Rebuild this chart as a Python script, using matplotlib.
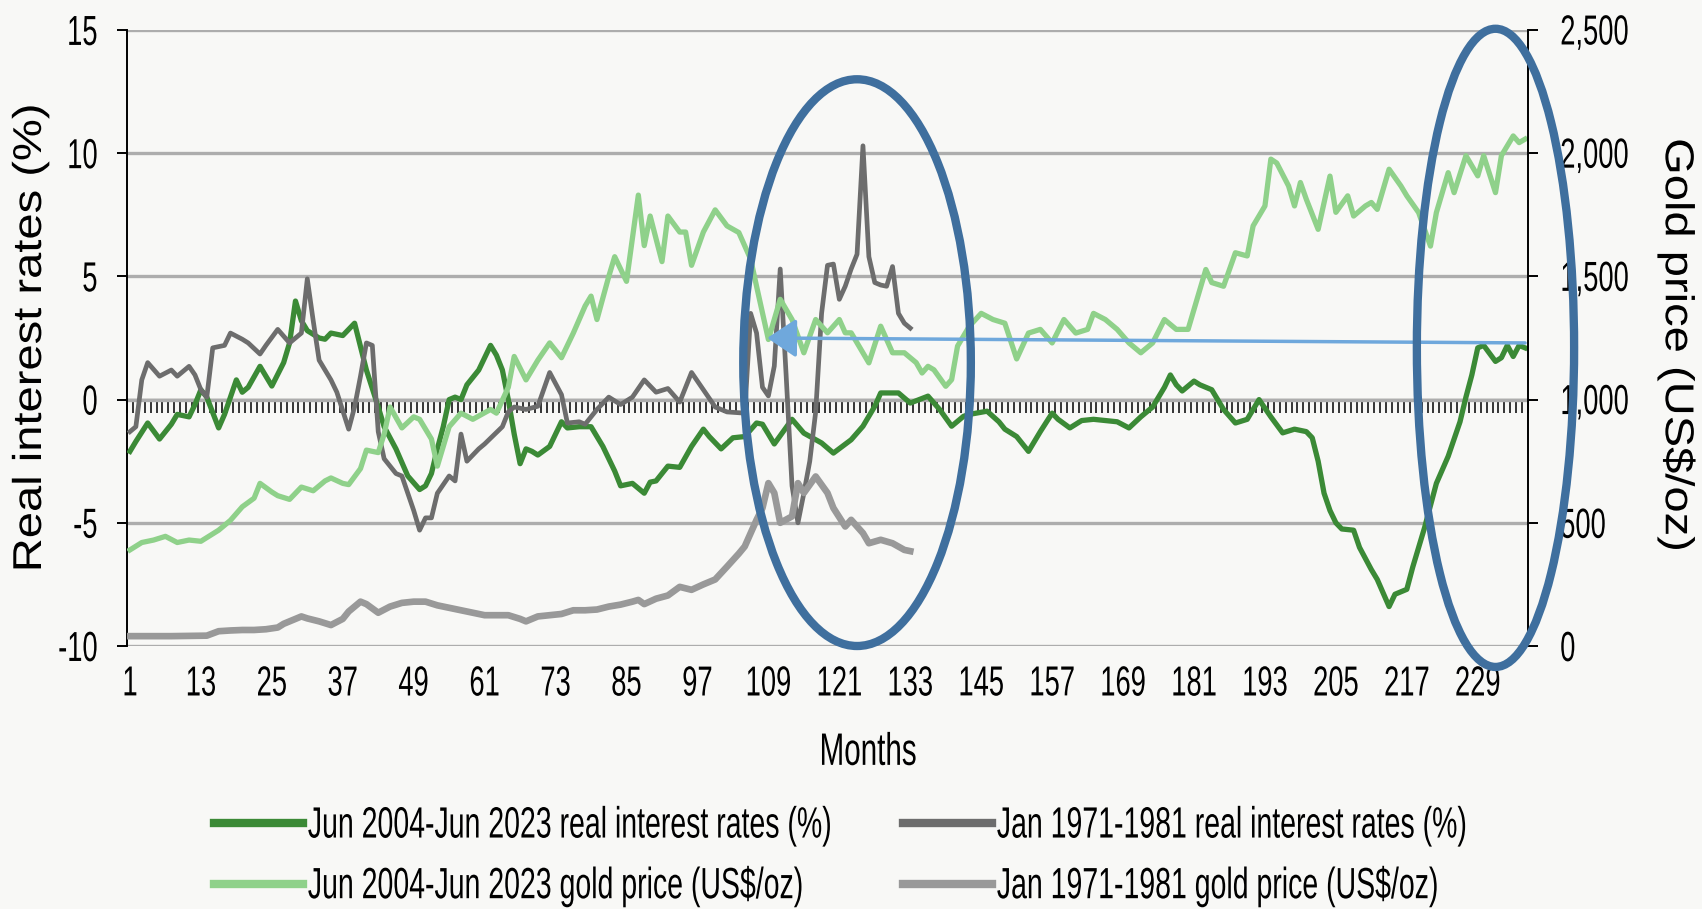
import numpy as np
import matplotlib.pyplot as plt
from matplotlib.patches import Ellipse
from matplotlib.patheffects import AbstractPathEffect
from matplotlib.transforms import Affine2D

# Jun 2004-Jun 2023 real interest rates (%), month -> value
dg_m = [1, 2, 4, 6, 8, 9, 11, 12, 13, 14, 16, 17, 19, 20, 21, 23, 25, 27, 28, 29, 30, 31, 33, 34, 35, 37, 39,
        41, 43, 44, 46, 48, 50, 51, 52, 53, 54, 55, 56, 57, 58, 60, 62, 63, 64, 65, 66, 67, 68, 69, 70, 72, 74,
        75, 77, 79, 81, 83, 84, 86, 88, 89, 90, 92, 94, 96, 98, 99, 101, 103, 105, 107, 108, 110, 113, 115, 118,
        120, 123, 125, 127, 128, 131, 133, 136, 138, 140, 142, 143, 146, 148, 149, 151, 153, 155, 157, 158, 160,
        162, 164, 166, 168, 170, 172, 174, 176, 177, 178, 179, 181, 182, 184, 186, 188, 190, 192, 194, 196, 198,
        200, 201, 202, 203, 204, 205, 206, 208, 209, 211, 212, 214, 215, 217, 218, 219, 220, 222, 224, 226, 227,
        228, 229, 230, 232, 233, 234, 235, 236, 237]
dg_v = [-2.1, -1.7, -0.95, -1.6, -1.0, -0.6, -0.7, -0.2, 0.4, 0.1, -1.15, -0.6, 0.8, 0.3, 0.5, 1.35, 0.55, 1.5,
        2.3, 4.0, 3.2, 2.8, 2.5, 2.45, 2.7, 2.6, 3.1, 1.2, -0.3, -1.1, -2.0, -3.1, -3.65, -3.5, -3.0, -2.0, -1.1,
        0.0, 0.1, 0.0, 0.6, 1.2, 2.2, 1.8, 1.2, 0.0, -1.4, -2.6, -2.0, -2.1, -2.25, -1.9, -0.9, -1.15, -1.1, -1.1,
        -1.9, -2.9, -3.5, -3.4, -3.8, -3.35, -3.3, -2.7, -2.75, -1.9, -1.2, -1.5, -2.0, -1.55, -1.5, -0.95, -1.0,
        -1.8, -0.8, -1.36, -1.76, -2.17, -1.63, -1.08, -0.27, 0.27, 0.27, -0.14, 0.14, -0.41, -1.08, -0.68, -0.6,
        -0.47, -0.9, -1.2, -1.5, -2.1, -1.3, -0.55, -0.8, -1.15, -0.85, -0.8, -0.85, -0.9, -1.15, -0.7, -0.3, 0.5,
        1.0, 0.6, 0.35, 0.75, 0.6, 0.4, -0.4, -0.95, -0.8, 0.0, -0.7, -1.35, -1.2, -1.3, -1.55, -2.5, -3.8, -4.5,
        -5.0, -5.25, -5.3, -6.0, -6.9, -7.3, -8.4, -7.9, -7.7, -6.8, -6.0, -5.2, -3.4, -2.3, -0.9, 0.1, 1.0, 2.1,
        2.2, 1.55, 1.7, 2.2, 1.75, 2.2, 2.1]

# Jun 2004-Jun 2023 gold price (US$/oz)
lg_m = [1, 3, 5, 7, 9, 11, 13, 14, 16, 18, 20, 22, 23, 25, 26, 28, 30, 32, 34, 35, 37, 38, 40, 41, 43, 44, 45,
        47, 49, 50, 52, 53, 55, 57, 59, 62, 63, 65, 66, 68, 70, 72, 74, 76, 78, 79, 80, 82, 83, 85, 87, 88, 89,
        91, 92, 94, 95, 96, 98, 100, 102, 104, 106, 107, 109, 111, 113, 115, 117, 119, 121, 122, 123, 126, 128,
        130, 132, 134, 135, 136, 137, 139, 140, 141, 143, 145, 147, 149, 151, 153, 155, 157, 159, 161, 163, 164,
        166, 168, 170, 172, 174, 176, 178, 180, 182, 183, 184, 186, 188, 190, 191, 193, 194, 195, 197, 198, 199,
        200, 202, 204, 205, 207, 208, 210, 211, 212, 214, 216, 217, 219, 221, 222, 224, 225, 227, 229, 230, 232,
        233, 235, 236, 237]
lg_v = [390, 420, 430, 445, 420, 430, 425, 440, 470, 510, 565, 600, 660, 625, 610, 595, 645, 630, 670, 682, 660,
        655, 720, 795, 785, 860, 970, 885, 930, 920, 840, 730, 890, 945, 920, 960, 945, 1050, 1175, 1080, 1160,
        1230, 1170, 1270, 1380, 1420, 1325, 1500, 1580, 1480, 1830, 1625, 1745, 1560, 1745, 1680, 1680, 1545,
        1680, 1770, 1705, 1678, 1570, 1460, 1244, 1407, 1325, 1190, 1325, 1271, 1325, 1271, 1271, 1149, 1298,
        1190, 1190, 1150, 1108, 1135, 1121, 1054, 1081, 1217, 1298, 1350, 1325, 1310, 1165, 1270, 1285, 1230,
        1325, 1270, 1285, 1350, 1325, 1285, 1230, 1190, 1230, 1325, 1285, 1285, 1447, 1528, 1475, 1460, 1596,
        1583, 1705, 1786, 1976, 1960, 1867, 1786, 1881, 1813, 1691, 1907, 1760, 1827, 1745, 1786, 1800, 1772,
        1935, 1867, 1827, 1759, 1623, 1759, 1921, 1840, 1990, 1908, 1990, 1840, 1990, 2070, 2043, 2057]

# Jan 1971-1981 real interest rates (%)
dk_m = [1, 2, 3, 4, 6, 8, 9, 11, 12, 13, 14, 15, 17, 18, 20, 21, 23, 24, 26, 28, 29, 30, 31, 32, 33, 35, 36, 38,
        39, 40, 41, 42, 43, 44, 46, 47, 49, 50, 51, 52, 53, 55, 56, 57, 58, 60, 61, 64, 65, 66, 68, 70, 72, 74,
        75, 77, 78, 80, 82, 84, 86, 88, 90, 92, 94, 96, 98, 100, 102, 105, 106, 107, 108, 109, 110, 111, 112,
        113, 114, 115, 116, 117, 118, 119, 120, 121, 122, 123, 124, 125, 126, 127, 128, 129, 130, 131, 132, 133]
dk_v = [-1.3, -1.1, 0.8, 1.5, 0.95, 1.2, 0.95, 1.35, 1.0, 0.4, 0.1, 2.1, 2.2, 2.7, 2.45, 2.3, 1.85, 2.2, 2.85,
        2.3, 2.5, 2.7, 4.9, 3.2, 1.6, 0.8, 0.3, -1.2, -0.3, 0.95, 2.3, 2.2, -1.3, -2.4, -3.0, -3.1, -4.5, -5.3,
        -4.8, -4.8, -3.8, -3.1, -3.3, -1.4, -2.5, -2.0, -1.8, -1.1, -0.5, -0.3, -0.4, -0.27, 1.1, 0.2, -0.95,
        -0.9, -1.0, -0.4, 0.1, -0.2, 0.1, 0.8, 0.3, 0.45, -0.1, 1.1, 0.4, -0.3, -0.5, -0.55, 3.5, 2.7, 0.5, 0.15,
        1.36, 5.3, 1.0, -3.5, -5.0, -3.8, -2.5, -0.5, 3.5, 5.45, 5.5, 4.07, 4.6, 5.3, 5.9, 10.3, 5.8, 4.75, 4.65,
        4.6, 5.4, 3.5, 3.1, 2.9]

# Jan 1971-1981 gold price (US$/oz)
gr_m = [1, 8, 14, 16, 18, 20, 22, 24, 26, 27, 29, 30, 31, 33, 35, 37, 38, 40, 41, 43, 45, 47, 49, 51, 53, 55, 57,
        59, 61, 63, 65, 67, 68, 70, 72, 74, 76, 78, 80, 82, 84, 86, 87, 88, 90, 92, 94, 96, 98, 100, 102, 104, 105,
        107, 108, 109, 110, 111, 113, 114, 115, 117, 119, 120, 122, 123, 125, 126, 128, 130, 132, 133]
gr_v = [40, 40, 42, 60, 63, 65, 65, 68, 75, 90, 110, 120, 112, 100, 85, 110, 140, 180, 170, 135, 160, 175, 180,
        180, 165, 155, 145, 135, 125, 125, 125, 110, 100, 120, 125, 130, 145, 145, 148, 160, 168, 180, 187, 170,
        192, 205, 240, 228, 250, 270, 322, 375, 404, 512, 560, 661, 621, 500, 526, 661, 621, 688, 621, 560, 485,
        512, 458, 417, 431, 417, 390, 385]

labels = ['Jun 2004-Jun 2023 real interest rates (%)', 'Jun 2004-Jun 2023 gold price (US$/oz)',
          'Jan 1971-1981 real interest rates (%)', 'Jan 1971-1981 gold price (US$/oz)']
x_ticks = list(range(1, 230, 12))
n_months = 237


class Squash(AbstractPathEffect):
    """scale glyphs (narrow & tall like the source), anchored at a fraction of the ink box"""

    def __init__(self, sx, sy, fx=0.5, fy=0.5):
        super().__init__()
        self.sx, self.sy, self.fx, self.fy = sx, sy, fx, fy

    def draw_path(self, renderer, gc, tpath, affine, rgbFace=None):
        e = tpath.get_extents()
        cx = e.x0 + self.fx * e.width
        cy = e.y0 + self.fy * e.height
        t = Affine2D().translate(-cx, -cy).scale(self.sx, self.sy).translate(cx, cy)
        renderer.draw_path(gc, tpath, t + affine, rgbFace)


plt.rcParams['font.family'] = ['Liberation Sans', 'DejaVu Sans']
plt.rcParams['axes.unicode_minus'] = False
SX, SY = 0.82, 1.26

bg = '#f8f8f6'
fig = plt.figure(figsize=(17.02, 9.09), dpi=100, facecolor=bg)
ax = fig.add_axes([127 / 1702, 1 - 646 / 909, 1401 / 1702, 616 / 909])
ax.set_facecolor(bg)
ax2 = ax.twinx()

ax.set_xlim(0.5, n_months + 0.5)
ax.set_ylim(-10, 15)
ax2.set_ylim(0, 2500)

c_dg, c_lg, c_dk, c_gr = '#3b8a36', '#8fd18a', '#6d6d6d', '#999999'
l1, = ax.plot(dg_m, dg_v, color=c_dg, lw=3.8, zorder=3)
l3, = ax.plot(dk_m, dk_v, color=c_dk, lw=3.4, zorder=3)
l2, = ax2.plot(lg_m, lg_v, color=c_lg, lw=3.8, zorder=2)
l4, = ax2.plot(gr_m, gr_v, color=c_gr, lw=4.8, zorder=2)

# grid + axes
ax.set_yticks([-10, -5, 0, 5, 10, 15])
ax.yaxis.grid(True, color='#adadad', lw=2.4)
ax.set_axisbelow(True)
for s in ['top', 'bottom', 'right']:
    ax.spines[s].set_visible(False)
for s in ['top', 'bottom', 'left']:
    ax2.spines[s].set_visible(False)
ax.spines['left'].set_linewidth(1.4)
ax2.spines['right'].set_linewidth(1.4)
ax.tick_params(axis='y', length=7, width=1.4, pad=14, labelsize=24)
ax2.set_yticks(range(0, 2501, 500))
ax2.set_yticklabels([f'{v:,}' for v in range(0, 2501, 500)])
ax2.tick_params(axis='y', length=7, width=1.4, pad=16, labelsize=24)

ax.set_xticks(x_ticks)
ax.tick_params(axis='x', length=0, pad=14, labelsize=24)

for t in ax.get_xticklabels():
    t.set_path_effects([Squash(SX, SY, 0.5, 1.0)])
for t in ax.get_yticklabels():
    t.set_path_effects([Squash(SX, SY, 1.0, 0.5)])
for t in ax2.get_yticklabels():
    t.set_path_effects([Squash(SX, SY, 0.0, 0.5)])

# zero axis with monthly ticks
zero = ax.secondary_xaxis(10 / 25)
zero.set_xticks(np.arange(0.5, n_months + 1, 1))
zero.tick_params(axis='x', direction='out', length=9.5, width=1.1, labelbottom=False)
zero.spines['bottom'].set_linewidth(1.6)

# annotations
ann = dict(transform=ax.transData, fill=False, ec='#3f6f9e', lw=6, clip_on=False, zorder=6)
ax2.add_patch(Ellipse((124, 1.5), 38.5, 23.0, **ann))
ax2.add_patch(Ellipse((232, 2.1), 26.6, 25.9, **ann))
ax2.annotate('', xy=(108.8, 2.5), xycoords=ax.transData, xytext=(237, 2.3), textcoords=ax.transData,
             arrowprops=dict(arrowstyle='-|>,head_length=0.9,head_width=0.6', mutation_scale=20,
                             color='#6fa8dc', lw=2.5, shrinkA=0, shrinkB=0), zorder=5)

fig.text(30 / 1702, 1 - 338 / 909, 'Real interest rates (%)', rotation=90, ha='center', va='center',
         fontsize=29, path_effects=[Squash(1.17, 1.0)])
fig.text(1677 / 1702, 1 - 345 / 909, 'Gold price (US$/oz)', rotation=270, ha='center', va='center',
         fontsize=29, path_effects=[Squash(1.17, 1.0)])
fig.text(868 / 1702, 1 - 752 / 909, 'Months', ha='center', va='center', fontsize=26,
         path_effects=[Squash(SX, SY)])

# two legend columns placed separately
for hs, ls, x0 in [([l1, l2], labels[:2], 214), ([l3, l4], labels[2:], 903)]:
    leg = fig.legend(hs, ls, loc='center left', bbox_to_anchor=(x0 / 1702, 1 - 856 / 909), frameon=False,
                     fontsize=25, handlelength=2.55, handletextpad=0.15, labelspacing=0.78,
                     borderpad=0, borderaxespad=0)
    for t in leg.get_texts():
        t.set_path_effects([Squash(SX, SY, 0.0, 0.5)])
    for ln in leg.get_lines():
        ln.set_linewidth(6)

fig.savefig('out.png', dpi=100, facecolor=bg)
